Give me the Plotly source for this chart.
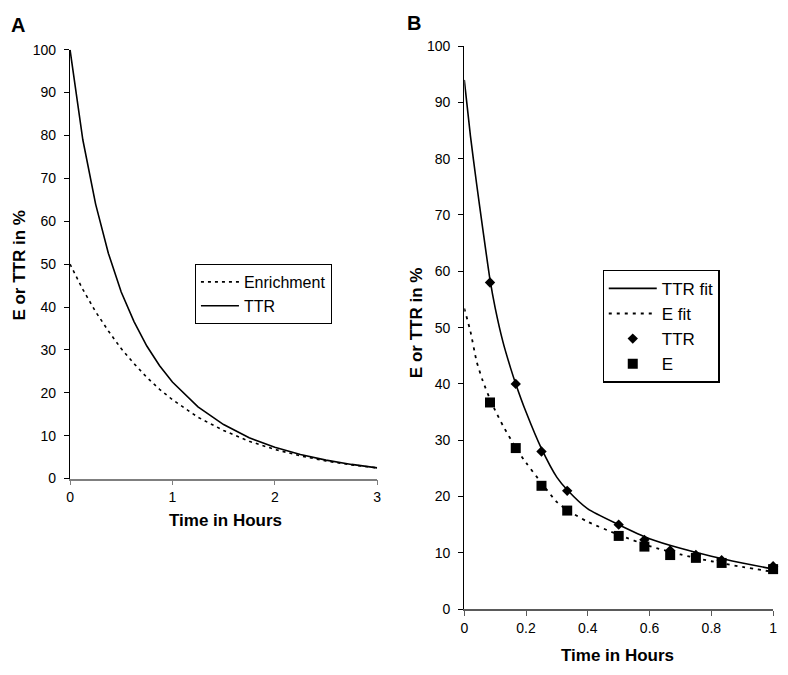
import plotly.graph_objects as go

# ---------------- Panel A data ----------------
a_time = [0, 0.125, 0.25, 0.375, 0.5, 0.625, 0.75, 0.875, 1.0,
          1.25, 1.5, 1.75, 2.0, 2.25, 2.5, 2.75, 3.0]
a_enrichment = [50, 44.1, 38.9, 34.4, 30.3, 26.8, 23.6, 20.8, 18.4,
                14.3, 11.2, 8.7, 6.8, 5.3, 4.1, 3.2, 2.5]
a_ttr = [100, 79, 64, 52.5, 43.5, 36.6, 30.9, 26.3, 22.5,
         16.7, 12.6, 9.5, 7.3, 5.6, 4.3, 3.3, 2.5]

# ---------------- Panel B data ----------------
b_fit_time = [0, 0.02, 0.04, 0.06, 0.0833, 0.1, 0.125, 0.15, 0.1667, 0.2,
              0.25, 0.3, 0.333, 0.4, 0.5, 0.6, 0.7, 0.8, 0.9, 1.0]
b_ttr_fit = [94, 84, 75.5, 67.5, 58.5, 53.5, 47.5, 42.8, 40, 35,
             28.5, 23.4, 21.2, 17.8, 15.0, 12.5, 10.8, 9.4, 8.2, 7.1]
b_e_fit = [53.4, 49.3, 44.0, 40.5, 37.3, 35.3, 32.6, 30.2, 28.6, 26.0,
           22.4, 19.0, 17.6, 15.5, 13.2, 11.2, 9.7, 8.5, 7.5, 6.6]

b_obs_time = [0.0833, 0.1667, 0.25, 0.3333, 0.5, 0.5833, 0.6667, 0.75, 0.8333, 1.0]
b_ttr_obs = [58, 40, 28, 21, 15, 12.3, 10.4, 9.6, 8.7, 7.6]
b_e_obs = [36.7, 28.6, 21.9, 17.5, 13.0, 11.1, 9.6, 9.1, 8.2, 7.1]

a_xticks = [0, 1, 2, 3]
b_xticks = [0, 0.2, 0.4, 0.6, 0.8, 1]
b_xticklabels = ["0", "0.2", "0.4", "0.6", "0.8", "1"]
y_ticks = list(range(0, 101, 10))

FONT = "Liberation Sans, Arial, Helvetica, sans-serif"
W, H = 788, 675

def px_x(p):
    return p / W

def px_y(p):
    return (H - p) / H

fig = go.Figure()

# Panel A
fig.add_trace(go.Scatter(x=a_time, y=a_enrichment, mode="lines", name="Enrichment",
                         line=dict(color="black", width=1.6, dash="3px,4px"),
                         xaxis="x", yaxis="y", legend="legend"))
fig.add_trace(go.Scatter(x=a_time, y=a_ttr, mode="lines", name="TTR",
                         line=dict(color="black", width=1.6),
                         xaxis="x", yaxis="y", legend="legend"))

# Panel B
fig.add_trace(go.Scatter(x=b_fit_time, y=b_ttr_fit, mode="lines", name="TTR fit",
                         line=dict(color="black", width=1.6, shape="spline", smoothing=0.6),
                         xaxis="x2", yaxis="y2", legend="legend2"))
fig.add_trace(go.Scatter(x=b_fit_time, y=b_e_fit, mode="lines", name="E fit",
                         line=dict(color="black", width=1.8, dash="3px,5px",
                                   shape="spline", smoothing=0.6),
                         xaxis="x2", yaxis="y2", legend="legend2"))
fig.add_trace(go.Scatter(x=b_obs_time, y=b_ttr_obs, mode="markers", name="TTR",
                         marker=dict(symbol="diamond", size=8, color="black"),
                         cliponaxis=False,
                         xaxis="x2", yaxis="y2", legend="legend2"))
fig.add_trace(go.Scatter(x=b_obs_time, y=b_e_obs, mode="markers", name="E",
                         marker=dict(symbol="square", size=10, color="black"),
                         cliponaxis=False,
                         xaxis="x2", yaxis="y2", legend="legend2"))

axis_common = dict(showgrid=False, zeroline=False, showline=True, ticks="outside",
                   ticklen=5, tickwidth=1.3,
                   tickfont=dict(family=FONT, size=14, color="black"))

fig.update_layout(
    width=W, height=H,
    margin=dict(l=0, r=0, t=0, b=0),
    paper_bgcolor="white", plot_bgcolor="white",
    font=dict(family=FONT, color="black"),
    xaxis=dict(domain=[px_x(66.7), px_x(377)], range=[0, 3], tickvals=a_xticks,
               linecolor="#7f7f7f", linewidth=1.6, tickcolor="#7f7f7f",
               anchor="y", **axis_common),
    yaxis=dict(domain=[px_y(482), px_y(42.7)], range=[0, 100], tickvals=y_ticks,
               linecolor="black", linewidth=1.4, tickcolor="black",
               ticklabelstandoff=5, anchor="x", **axis_common),
    xaxis2=dict(domain=[px_x(465), px_x(777)], range=[0, 1], tickvals=b_xticks,
                ticktext=b_xticklabels,
                linecolor="#5a5a5a", linewidth=1.6, tickcolor="#5a5a5a",
                anchor="y2", **axis_common),
    yaxis2=dict(domain=[px_y(615.7), px_y(39)], range=[0, 100], tickvals=y_ticks,
                linecolor="black", linewidth=1.4, tickcolor="black",
                ticklabelstandoff=5, anchor="x2", **axis_common),
    legend=dict(x=px_x(192.7), y=px_y(262), xanchor="left", yanchor="top",
                bordercolor="black", borderwidth=1.2, bgcolor="white",
                font=dict(family=FONT, size=16, color="black"),
                itemwidth=38, tracegroupgap=0),
    legend2=dict(x=px_x(604.7), y=px_y(268), xanchor="left", yanchor="top",
                 bordercolor="black", borderwidth=1.2, bgcolor="white",
                 font=dict(family=FONT, size=17, color="black"),
                 itemwidth=48, tracegroupgap=0),
    showlegend=True,
)

ann_font = dict(family=FONT, size=17, color="black")
fig.add_annotation(text="<b>Time in Hours</b>", x=px_x(224), y=px_y(525),
                   xref="paper", yref="paper", showarrow=False, font=ann_font,
                   xanchor="center", yanchor="middle")
fig.add_annotation(text="<b>E or TTR in %</b>", x=px_x(16), y=px_y(263),
                   xref="paper", yref="paper", showarrow=False, font=ann_font,
                   textangle=-90, xanchor="center", yanchor="middle")
fig.add_annotation(text="<b>Time in Hours</b>", x=px_x(620), y=px_y(663),
                   xref="paper", yref="paper", showarrow=False, font=ann_font,
                   xanchor="center", yanchor="middle")
fig.add_annotation(text="<b>E or TTR in %</b>", x=px_x(417), y=px_y(322),
                   xref="paper", yref="paper", showarrow=False, font=ann_font,
                   textangle=-90, xanchor="center", yanchor="middle")
fig.add_annotation(text="<b>A</b>", x=px_x(14), y=px_y(17),
                   xref="paper", yref="paper", showarrow=False,
                   font=dict(family=FONT, size=20, color="black"),
                   xanchor="center", yanchor="middle")
fig.add_annotation(text="<b>B</b>", x=px_x(414), y=px_y(15),
                   xref="paper", yref="paper", showarrow=False,
                   font=dict(family=FONT, size=20, color="black"),
                   xanchor="center", yanchor="middle")

fig.write_html("out.html",
               config={"displayModeBar": False},
               post_script="document.body.style.margin='0';document.body.style.overflow='hidden';")
